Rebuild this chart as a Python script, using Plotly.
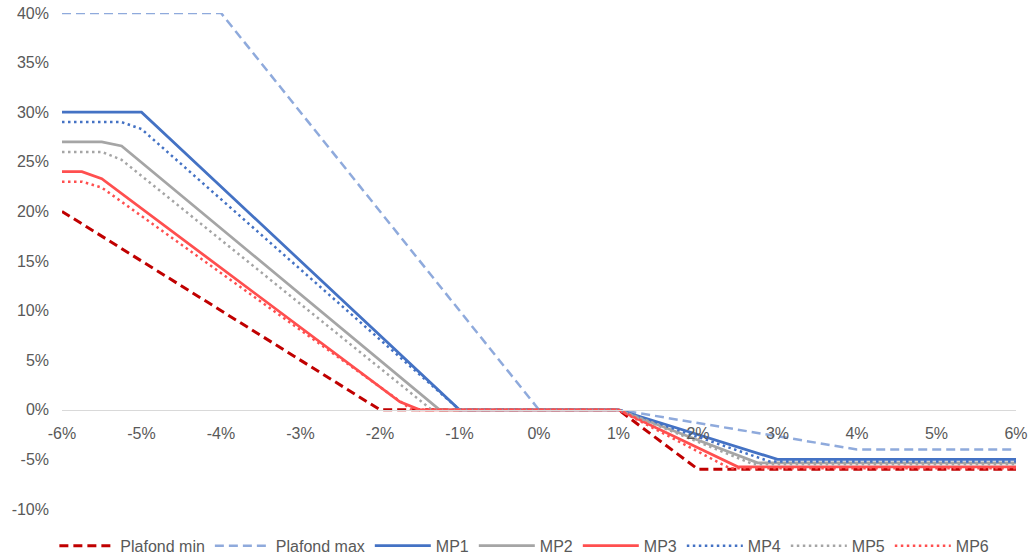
import plotly.graph_objects as go

# ---- data (percent units) ----
x_plafond_min = [-6, -2, 1, 2, 6]
y_plafond_min = [20, 0, 0, -6, -6]

x_plafond_max = [-6, -4, 0, 1, 4, 6]
y_plafond_max = [40, 40, 0, 0, -4, -4]

x_mp1 = [-6, -5, -1, 1, 3, 6]
y_mp1 = [30, 30, 0, 0, -5, -5]

x_mp2 = [-6, -5.5, -5.25, -1.25, 1, 2.75, 6]
y_mp2 = [27, 27, 26.6, 0, 0, -5.35, -5.35]

x_mp3 = [-6, -5.75, -5.5, -1.75, -1.5, 1, 2.5, 6]
y_mp3 = [24, 24, 23.3, 0.8, 0, 0, -5.75, -5.75]

x_mp4 = [-6, -5.25, -5, -1, 1, 2.9, 6]
y_mp4 = [29, 29, 28.3, 0, 0, -5.2, -5.2]

x_mp5 = [-6, -5.5, -5.25, -1.35, 1, 2.7, 6]
y_mp5 = [26, 26, 25.2, 0, 0, -5.5, -5.5]

x_mp6 = [-6, -5.75, -5.5, -1.75, -1.6, 1, 2.4, 6]
y_mp6 = [23, 23, 22.4, 0.8, 0, 0, -5.9, -5.9]

x_tick_vals = [-6, -5, -4, -3, -2, -1, 0, 1, 2, 3, 4, 5, 6]
x_tick_text = ["-6%", "-5%", "-4%", "-3%", "-2%", "-1%", "0%", "1%", "2%", "3%", "4%", "5%", "6%"]
y_tick_vals = [-10, -5, 0, 5, 10, 15, 20, 25, 30, 35, 40]
y_tick_text = ["-10%", "-5%", "0%", "5%", "10%", "15%", "20%", "25%", "30%", "35%", "40%"]

series = [
    ("Plafond min", x_plafond_min, y_plafond_min, "#C00000", "9px,5px", 3),
    ("Plafond max", x_plafond_max, y_plafond_max, "#8FAADC", "9px,5px", 2.5),
    ("MP1", x_mp1, y_mp1, "#4472C4", "solid", 2.75),
    ("MP2", x_mp2, y_mp2, "#A5A5A5", "solid", 2.75),
    ("MP3", x_mp3, y_mp3, "#FF4F4F", "solid", 2.75),
    ("MP4", x_mp4, y_mp4, "#4472C4", "2.5px,3.5px", 2.5),
    ("MP5", x_mp5, y_mp5, "#A5A5A5", "2.5px,3.5px", 2.5),
    ("MP6", x_mp6, y_mp6, "#FF4F4F", "2.5px,3.5px", 2.5),
]

fig = go.Figure()
for name, xs, ys, color, dash, w in series:
    fig.add_trace(go.Scatter(
        x=xs, y=ys, mode="lines", name=name,
        line=dict(color=color, width=w, dash=dash),
    ))

font_family = "Liberation Sans, Arial, sans-serif"
fs = 16
fig.update_layout(
    width=1031, height=558,
    margin=dict(l=62, r=15, t=13, b=49, autoexpand=False),
    paper_bgcolor="white", plot_bgcolor="white",
    font=dict(family=font_family, size=fs, color="#595959"),
    showlegend=True,
    legend=dict(
        orientation="h", x=-0.008, xanchor="left", y=-0.040, yanchor="top",
        font=dict(family=font_family, size=fs, color="#595959"),
        itemwidth=56, tracegroupgap=0,
    ),
    xaxis=dict(
        range=[-6, 6], anchor="free", position=0.2, automargin=False,
        tickvals=x_tick_vals, ticktext=x_tick_text,
        showgrid=False, zeroline=False,
        showline=True, linecolor="#D9D9D9", linewidth=1,
        ticks="", ticklabelstandoff=9,
        tickfont=dict(family=font_family, size=fs, color="#595959"),
    ),
    yaxis=dict(
        range=[-10, 40], domain=[0, 1], automargin=False,
        tickvals=y_tick_vals, ticktext=y_tick_text,
        showgrid=False, zeroline=False, showline=False,
        ticks="", ticklabelstandoff=12,
        tickfont=dict(family=font_family, size=fs, color="#595959"),
    ),
)

fig.write_html("out.html")
